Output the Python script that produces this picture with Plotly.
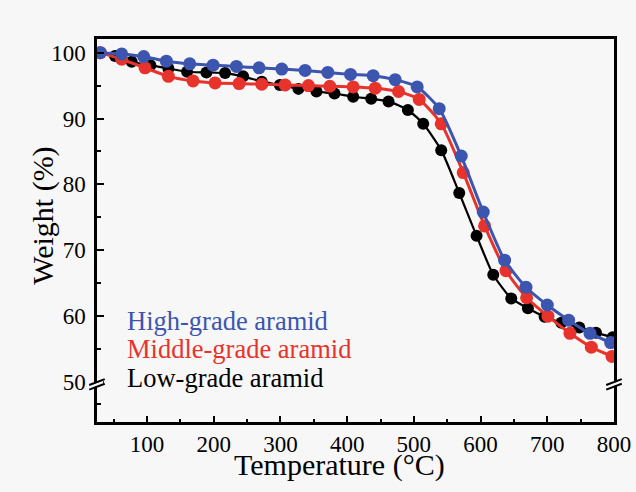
import plotly.graph_objects as go

# ---- data ----
high_x = [30, 62, 95, 129, 164, 199, 234, 268, 302, 337, 371, 405, 439, 472, 505, 538, 571, 604, 636, 668, 700, 732, 764, 795]
high_y = [100.0, 99.8, 99.4, 98.7, 98.3, 98.1, 97.9, 97.7, 97.5, 97.3, 97.0, 96.7, 96.5, 95.9, 94.8, 91.5, 84.3, 75.8, 68.5, 64.4, 61.7, 59.4, 57.4, 56.0]

mid_x = [30, 62, 97, 132, 169, 202, 238, 272, 307, 342, 374, 409, 442, 477, 508, 541, 574, 606, 638, 669, 701, 734, 766, 797]
mid_y = [100.0, 99.0, 97.7, 96.4, 95.7, 95.4, 95.3, 95.2, 95.1, 95.0, 94.9, 94.8, 94.6, 94.1, 92.9, 89.2, 81.8, 73.7, 66.9, 62.8, 60.0, 57.4, 55.3, 53.9]

low_x = [30, 52, 77, 105, 132, 160, 189, 217, 244, 272, 299, 327, 354, 381, 409, 436, 462, 491, 514, 541, 568, 594, 619, 646, 671, 696, 721, 748, 773, 798]
low_y = [100.0, 99.5, 98.6, 98.1, 97.6, 97.1, 97.0, 96.9, 96.4, 95.6, 95.1, 94.5, 94.1, 93.8, 93.3, 93.0, 92.6, 91.3, 89.2, 85.2, 78.7, 72.2, 66.3, 62.7, 61.2, 59.9, 59.0, 58.3, 57.5, 56.8]

series_names = ["Low-grade aramid", "Middle-grade aramid", "High-grade aramid"]
x_ticks = [100, 200, 300, 400, 500, 600, 700, 800]
y_ticks = [50, 60, 70, 80, 90, 100]

BLUE = "#3c55ae"
RED = "#e8322c"
BLACK = "#000000"
FONT = "Liberation Serif"
BG = "#f7f7f7"

fig = go.Figure()
for xs, ys, name, col, lw, ms in [
    (low_x, low_y, series_names[0], BLACK, 2.2, 12),
    (mid_x, mid_y, series_names[1], RED, 3, 13),
    (high_x, high_y, series_names[2], BLUE, 3, 13),
]:
    fig.add_trace(go.Scatter(
        x=xs, y=ys, name=name, mode="lines+markers",
        line=dict(color=col, width=lw, shape="spline", smoothing=0.6),
        marker=dict(color=col, size=ms, line=dict(width=0)),
        cliponaxis=True, showlegend=False,
    ))

# legend as coloured text
for i, (name, col) in enumerate([(series_names[2], BLUE), (series_names[1], RED), (series_names[0], BLACK)]):
    fig.add_annotation(
        x=0.054, xref="paper", y=[59.3, 55.0, 50.6][i], yref="y",
        text=name, showarrow=False, xanchor="left", yanchor="middle",
        font=dict(family=FONT, size=26.5, color=col),
    )

# axis titles
fig.add_annotation(x=0.47, xref="paper", y=-0.112, yref="paper", text="Temperature (°C)",
                   showarrow=False, xanchor="center", yanchor="middle",
                   font=dict(family=FONT, size=30, color="black"))
fig.add_annotation(x=-0.106, xref="paper", y=0.539, yref="paper", text="Weight (%)",
                   showarrow=False, xanchor="center", yanchor="middle", textangle=-90,
                   font=dict(family=FONT, size=30, color="black"))

# axis break marks on left and right spines
for xc in [0.0, 1.0]:
    fig.add_shape(type="path", xref="paper", yref="y",
                  path=f"M {xc-0.012},{49.05} L {xc+0.012},{49.75} L {xc+0.012},{50.25} L {xc-0.012},{49.55} Z",
                  fillcolor=BG, line=dict(width=0), layer="above")
    for c in [49.3, 50.0]:
        fig.add_shape(type="line", xref="paper", yref="y",
                      x0=xc - 0.015, y0=c - 0.45, x1=xc + 0.015, y1=c + 0.45,
                      line=dict(color="black", width=2), layer="above")

fig.update_xaxes(
    range=[25, 800], tickmode="array", tickvals=x_ticks,
    ticks="inside", ticklen=6, tickwidth=2, tickcolor="black",
    minor=dict(tickmode="array", tickvals=[50, 150, 250, 350, 450, 550, 650, 750],
               ticks="inside", ticklen=3, tickwidth=2, tickcolor="black"),
    showline=True, linecolor="black", linewidth=2.5, mirror=True,
    showgrid=False, zeroline=False,
    tickfont=dict(family=FONT, size=23, color="black"),
    ticklabelstandoff=0,
)
fig.update_yaxes(
    range=[43.94, 102.07], tickmode="array", tickvals=y_ticks,
    ticks="inside", ticklen=7, tickwidth=2, tickcolor="black",
    minor=dict(tickmode="array", tickvals=[46.7, 55, 65, 75, 85, 95],
               ticks="inside", ticklen=4, tickwidth=2, tickcolor="black"),
    showline=True, linecolor="black", linewidth=2.5, mirror=True,
    showgrid=False, zeroline=False,
    tickfont=dict(family=FONT, size=23, color="black"),
    ticklabelstandoff=4,
)

fig.update_layout(
    width=636, height=492,
    margin=dict(l=97, r=22, t=39, b=70, autoexpand=False),
    paper_bgcolor=BG, plot_bgcolor=BG,
    showlegend=False,
)

fig.write_html("out.html")
